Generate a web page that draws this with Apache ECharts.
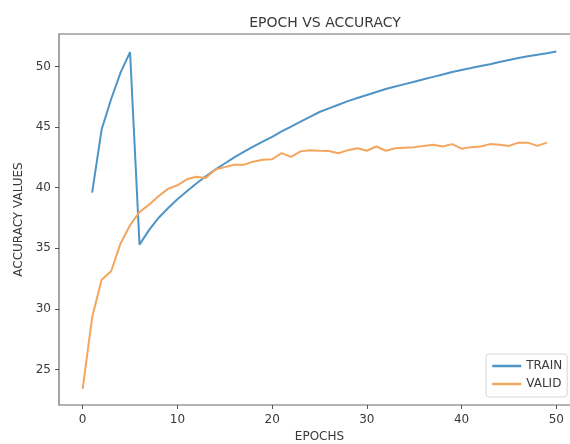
<!DOCTYPE html>
<html>
<head>
<meta charset="utf-8">
<script src="https://cdn.jsdelivr.net/npm/echarts@6/dist/echarts.min.js"></script>
<style>
  html, body { margin: 0; padding: 0; background: #fff; }
</style>
</head>
<body>
<div id="main" style="width:570px;height:444px;"></div>
<script>
// accuracy per epoch
var trainAcc = [
  39.6, 44.8, 47.3, 49.5, 51.2, 35.3, 36.5, 37.5, 38.3, 39.05,
  39.7, 40.35, 40.95, 41.5, 42.0, 42.5, 42.95, 43.4, 43.8, 44.2,
  44.65, 45.05, 45.45, 45.85, 46.25, 46.55, 46.85, 47.15, 47.4, 47.65,
  47.9, 48.15, 48.35, 48.55, 48.75, 48.95, 49.15, 49.35, 49.55, 49.72,
  49.88, 50.05, 50.2, 50.38, 50.55, 50.7, 50.85, 50.97, 51.1, 51.25
];
var validAcc = [
  23.4, 29.3, 32.4, 33.1, 35.4, 36.9, 38.0, 38.6, 39.3, 39.9,
  40.2, 40.7, 40.9, 40.8, 41.5, 41.7, 41.9, 41.9, 42.15, 42.3,
  42.35, 42.85, 42.55, 43.0, 43.1, 43.05, 43.03, 42.85, 43.1, 43.25,
  43.05, 43.4, 43.05, 43.25, 43.3, 43.35, 43.45, 43.55, 43.4, 43.6,
  43.22, 43.35, 43.4, 43.6, 43.55, 43.45, 43.72, 43.72, 43.45, 43.72
];
var trainStart = 1;   // train curve starts at epoch 1
var validStart = 0;   // valid curve starts at epoch 0
var xTicks = [0, 10, 20, 30, 40, 50];
var yTicks = [25, 30, 35, 40, 45, 50];

var fontFamily = "DejaVu Sans";
var textColor = "#3a3a3a";
var trainColor = "#4e94c6";
var validColor = "#f4a55e";

function pairs(values, start) {
  return values.map(function (v, i) { return [start + i, v]; });
}

var myChart = echarts.init(document.getElementById("main"));

var option = {
  animation: false,
  backgroundColor: "#fff",
  title: {
    text: "EPOCH VS ACCURACY",
    left: 320,
    top: 11,
    textAlign: "center",
    textStyle: { fontFamily: fontFamily, fontSize: 14, fontWeight: "normal", color: textColor }
  },
  grid: {
    left: 59,
    right: -10,
    top: 34,
    bottom: 39,
    containLabel: false,
    outerBoundsMode: "none",
    show: true,
    borderColor: "#6a6a6a",
    borderWidth: 1.2,
    backgroundColor: "transparent"
  },
  legend: {
    orient: "vertical",
    left: 486,
    top: 354,
    padding: [6, 5, 7, 5],
    itemGap: 6,
    itemWidth: 29,
    itemHeight: 14,
    backgroundColor: "#fff",
    borderColor: "#d6d6d6",
    borderWidth: 1,
    borderRadius: 3,
    itemStyle: { opacity: 0, color: "transparent", borderWidth: 0 },
    lineStyle: { width: 2.5 },
    textStyle: { fontFamily: fontFamily, fontSize: 12, color: textColor },
    data: ["TRAIN", "VALID"]
  },
  xAxis: {
    type: "value",
    min: -2.5,
    max: 52.5,
    name: "EPOCHS",
    nameLocation: "middle",
    nameGap: 26,
    nameTextStyle: { fontFamily: fontFamily, fontSize: 12, color: textColor },
    axisLine: { show: false, onZero: false },
    axisTick: { show: true, length: 4, customValues: xTicks, lineStyle: { color: "#555" } },
    axisLabel: { customValues: xTicks, margin: 9, fontFamily: fontFamily, fontSize: 12, color: textColor },
    splitLine: { show: false }
  },
  yAxis: {
    type: "value",
    min: 22.06,
    max: 52.69,
    name: "ACCURACY VALUES",
    nameLocation: "middle",
    nameGap: 33,
    nameTextStyle: { fontFamily: fontFamily, fontSize: 12, color: textColor },
    axisLine: { show: false, onZero: false },
    axisTick: { show: true, length: 4, customValues: yTicks, lineStyle: { color: "#555" } },
    axisLabel: { customValues: yTicks, margin: 8, fontFamily: fontFamily, fontSize: 12, color: textColor },
    splitLine: { show: false }
  },
  series: [
    {
      name: "TRAIN",
      type: "line",
      symbol: "none",
      lineStyle: { width: 2, color: trainColor },
      itemStyle: { color: trainColor },
      data: pairs(trainAcc, trainStart)
    },
    {
      name: "VALID",
      type: "line",
      symbol: "none",
      lineStyle: { width: 2, color: validColor },
      itemStyle: { color: validColor },
      data: pairs(validAcc, validStart)
    }
  ]
};

myChart.setOption(option);
</script>
</body>
</html>
